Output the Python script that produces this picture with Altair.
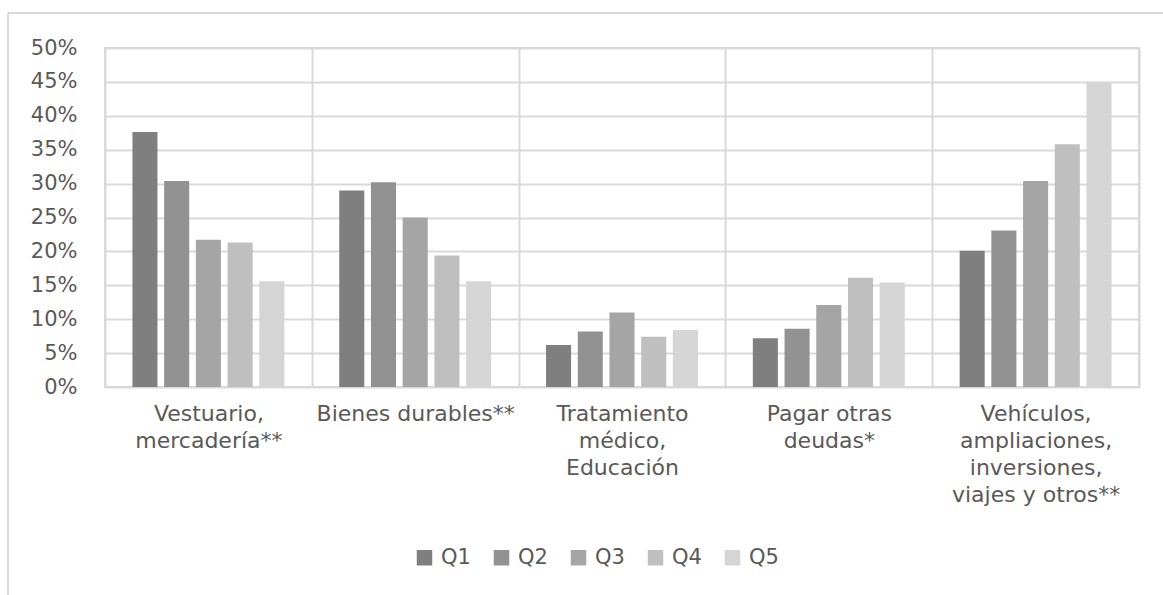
import altair as alt
import pandas as pd

categories = [
    "Vestuario,\nmercadería**",
    "Bienes durables**",
    "Tratamiento\nmédico,\nEducación",
    "Pagar otras\ndeudas*",
    "Vehículos,\nampliaciones,\ninversiones,\nviajes y otros**",
]
series = ["Q1", "Q2", "Q3", "Q4", "Q5"]
q1 = [0.376, 0.290, 0.062, 0.072, 0.201]
q2 = [0.304, 0.302, 0.082, 0.086, 0.231]
q3 = [0.217, 0.250, 0.110, 0.121, 0.304]
q4 = [0.213, 0.194, 0.074, 0.161, 0.358]
q5 = [0.156, 0.156, 0.084, 0.154, 0.450]
colors = ["#7f7f7f", "#929292", "#a5a5a5", "#bfbfbf", "#d5d5d5"]
y_ticks = [0, 0.05, 0.10, 0.15, 0.20, 0.25, 0.30, 0.35, 0.40, 0.45, 0.50]

rows = []
for s, vals in zip(series, [q1, q2, q3, q4, q5]):
    for c, v in zip(categories, vals):
        rows.append({"cat": c, "q": s, "v": v})
df = pd.DataFrame(rows)

W, H = 1034, 339
GRID = "#d9d9d9"
TXT = "#595959"
FS = 21

bars = alt.Chart(df).mark_bar().encode(
    x=alt.X("cat:N", sort=categories, title=None,
            scale=alt.Scale(paddingInner=0, paddingOuter=0),
            axis=alt.Axis(labelExpr="isValid(datum.value) ? split(datum.value, '\\n') : ''",
                          labelAngle=0,
                          tickBand="extent", grid=True, ticks=False, domain=False,
                          labelLineHeight=27, labelPadding=16, labelLimit=400,
                          labelFontSize=22, labelColor=TXT, labelBaseline="top")),
    xOffset=alt.XOffset("q:N", sort=series,
                        scale=alt.Scale(paddingInner=0.21, paddingOuter=0.865)),
    y=alt.Y("v:Q", title=None,
            scale=alt.Scale(domain=[0, 0.5], nice=False),
            axis=alt.Axis(values=y_ticks, format=".0%", ticks=False, domain=False,
                          labelPadding=28, labelFontSize=FS, labelColor=TXT)),
    color=alt.Color("q:N", sort=series, title=None,
                    scale=alt.Scale(domain=series, range=colors),
                    legend=alt.Legend(orient="none", legendX=309, legendY=499,
                                      direction="horizontal", symbolType="square",
                                      symbolSize=240, symbolStrokeWidth=0,
                                      labelFontSize=FS, labelColor=TXT,
                                      labelOffset=6, columnPadding=20)),
)

frame_df = pd.DataFrame({"a": [0]})
top_line = alt.Chart(frame_df).mark_rule(color=GRID, strokeWidth=2).encode(
    x=alt.value(-97), x2=alt.value(1163 - 105), y=alt.value(-35))
left_line = alt.Chart(frame_df).mark_rule(color=GRID, strokeWidth=2).encode(
    x=alt.value(-97), y=alt.value(-35), y2=alt.value(595 - 48))

chart = alt.layer(bars, top_line, left_line).properties(
    width=W, height=H,
    autosize=alt.AutoSizeParams(type="none"),
    padding={"left": 105, "top": 48, "right": 1163 - 105 - W, "bottom": 595 - 48 - H},
).configure(font="DejaVu Sans").configure_axis(
    gridColor=GRID, gridWidth=2,
).configure_view(stroke=GRID, strokeWidth=2)

chart.save("out.html", embed_options={"renderer": "svg", "actions": False})
